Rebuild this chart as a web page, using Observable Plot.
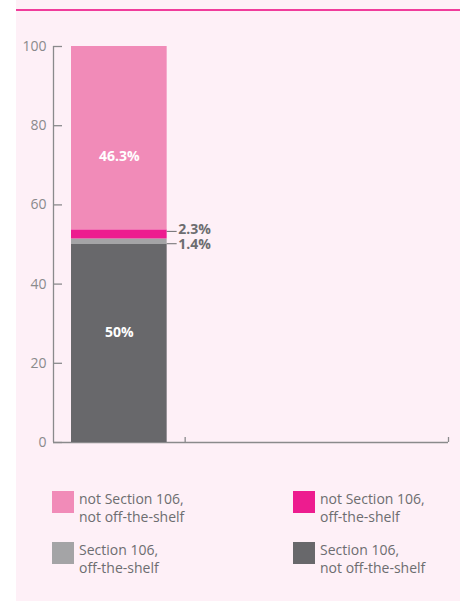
<!DOCTYPE html>
<html>
<head>
<meta charset="utf-8">
<script src="https://cdn.jsdelivr.net/npm/d3@7"></script>
<script src="https://cdn.jsdelivr.net/npm/@observablehq/plot@0.6"></script>
<style>
  html, body { margin: 0; padding: 0; background: #ffffff; }
  #panel {
    position: absolute; left: 16px; top: 0; width: 444px; height: 601px;
    background: #fef0f7; font-family: "Open Sans", sans-serif;
  }
  #rule { position: absolute; left: 0; top: 9px; width: 444px; height: 2px; background: #f03c9b; }
  #chart { position: absolute; left: 0; top: 12px; }
  #legend { position: absolute; left: 36px; top: 491px; width: 400px; }
  .item { position: absolute; display: flex; align-items: flex-start; }
  .sw { width: 22px; height: 22px; flex: none; }
  .lab { margin-left: 5px; font-size: 14px; line-height: 17.5px; color: #6d6d70; margin-top: -1px; }
</style>
</head>
<body>
<div id="panel">
  <div id="rule"></div>
  <div id="chart"></div>
  <div id="legend"></div>
</div>
<script>
const categories = [
  "Section 106, not off-the-shelf",
  "Section 106, off-the-shelf",
  "not Section 106, off-the-shelf",
  "not Section 106, not off-the-shelf"
];
const values = [50, 1.4, 2.3, 46.3];
const valueLabels = ["50%", "1.4%", "2.3%", "46.3%"];
const colors = ["#68686b", "#a4a4a6", "#ed1c8f", "#f18bb8"];
const yTicks = [0, 20, 40, 60, 80, 100];
const xTicks = [1, 3];
const legendOrder = [3, 2, 1, 0];

const ends = d3.cumsum(values);
const rows = categories.map((c, i) => ({
  category: c, value: values[i], label: valueLabels[i], group: 0,
  mid: ends[i] - values[i] / 2
}));

const axisColor = "#8a8a8c";
const chart = Plot.plot({
  width: 444, height: 440,
  marginLeft: 37, marginRight: 12, marginTop: 34, marginBottom: 10,
  style: { background: "transparent", fontFamily: "Open Sans, sans-serif", fontSize: "14px", color: axisColor, overflow: "visible" },
  x: { domain: [0, 3], axis: null },
  y: { domain: [0, 100], axis: null },
  color: { domain: categories, range: colors },
  marks: [
    Plot.ruleX([0], { stroke: axisColor, strokeWidth: 1.3 }),
    Plot.ruleY([0], { stroke: axisColor, strokeWidth: 1.3 }),
    Plot.axisY({ ticks: yTicks, tickSize: -9, tickFormat: () => "", label: null, stroke: axisColor, strokeWidth: 1.3 }),
    Plot.axisY({ ticks: yTicks, tickSize: 0, tickPadding: 7, label: null, fill: axisColor }),
    Plot.axisX({ ticks: xTicks, tickSize: -5, tickFormat: () => "", label: null, stroke: axisColor, strokeWidth: 1.3 }),
    Plot.rectY(rows, { x: "group", interval: 1, y: "value", fill: "category", insetLeft: 18, insetRight: 18 }),
    Plot.text(rows, { filter: (d, i) => i === 3, x: d => d.group + 0.5, y: "mid", text: "label", fill: "white", fontWeight: "bold", fontSize: 14, dy: 18 }),
    Plot.text(rows, { filter: (d, i) => i === 0, x: d => d.group + 0.5, y: "mid", text: "label", fill: "white", fontWeight: "bold", fontSize: 14, dy: -11 }),
    Plot.ruleY(rows, { filter: (d, i) => i === 2, y: "mid", x1: d => d.group + 1, x2: d => d.group + 1, insetLeft: -18, insetRight: 8, dy: -3, stroke: "#6d6d70" }),
    Plot.ruleY(rows, { filter: (d, i) => i === 1, y: "mid", x1: d => d.group + 1, x2: d => d.group + 1, insetLeft: -18, insetRight: 8, dy: 2, stroke: "#6d6d70" }),
    Plot.text(rows, { filter: (d, i) => i === 2, x: d => d.group + 1, y: "mid", text: "label", textAnchor: "start", dx: -7, dy: -4.5, fill: "#6d6d70", fontWeight: "bold", fontSize: 14 }),
    Plot.text(rows, { filter: (d, i) => i === 1, x: d => d.group + 1, y: "mid", text: "label", textAnchor: "start", dx: -7, dy: 3, fill: "#6d6d70", fontWeight: "bold", fontSize: 14 })
  ]
});
document.getElementById("chart").appendChild(chart);

const legend = document.getElementById("legend");
legendOrder.forEach((idx, k) => {
  const item = document.createElement("div");
  item.className = "item";
  item.style.left = (k % 2 === 0 ? 0 : 241) + "px";
  item.style.top = (Math.floor(k / 2) * 51) + "px";
  const sw = document.createElement("div");
  sw.className = "sw";
  sw.style.background = colors[idx];
  const lab = document.createElement("div");
  lab.className = "lab";
  const parts = categories[idx].split(", ");
  lab.innerHTML = parts[0] + ",<br>" + parts[1];
  item.appendChild(sw);
  item.appendChild(lab);
  legend.appendChild(item);
});
</script>
</body>
</html>
